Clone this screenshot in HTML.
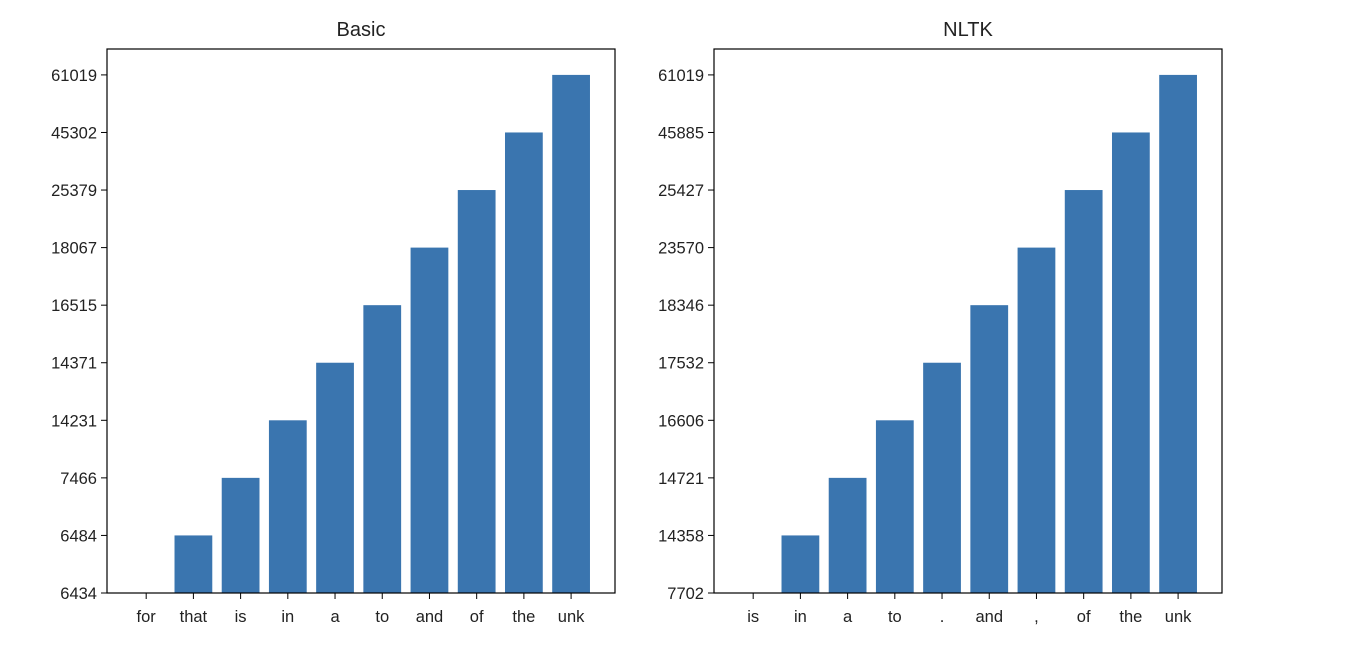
<!DOCTYPE html>
<html><head><meta charset="utf-8"><style>
body{margin:0;background:#fff;}
svg{display:block;font-family:"Liberation Sans","DejaVu Sans",sans-serif;}
</style></head><body>
<svg id="c" width="1360" height="660"></svg>
<script>
const basicWords=["for","that","is","in","a","to","and","of","the","unk"];
const basicCounts=["6434","6484","7466","14231","14371","16515","18067","25379","45302","61019"];
const nltkWords=["is","in","a","to",".","and",",","of","the","unk"];
const nltkCounts=["7702","14358","14721","16606","17532","18346","23570","25427","45885","61019"];
const titles=["Basic","NLTK"];
const NS="http://www.w3.org/2000/svg";
const svg=document.getElementById('c');
function mk(t,a,p){const e=document.createElementNS(NS,t);for(const k in a)e.setAttribute(k,a[k]);(p||svg).appendChild(e);return e;}
function panel(x0,words,counts,title,name){
  const g=mk('g',{});
  
  
  const W=508,top=49,bot=593;
  const cats=[];counts.forEach(c=>{if(!cats.includes(c))cats.push(c);});
  const n=words.length;
  const xmin=-0.83, xmax=n-1+0.93;
  const xs=v=>x0+(v-xmin)/(xmax-xmin)*W;
  const ymax=(cats.length-1)*1.05;
  const ys=v=>bot-v/ymax*(bot-top);
  words.forEach((w,i)=>{
    const v=cats.indexOf(counts[i]);
    const r=mk('rect',{x:xs(i-0.4),y:ys(v),width:xs(i+0.4)-xs(i-0.4),height:bot-ys(v),fill:'#3a75af'},g);
    
    
    mk('line',{x1:xs(i),x2:xs(i),y1:bot,y2:bot+6,stroke:'#000'},g);
    const t=mk('text',{x:xs(i),y:bot+29,'text-anchor':'middle','font-size':16.5,fill:'#222'},g);
    t.textContent=w;
    
    
  });
  cats.forEach((c,j)=>{
    mk('line',{x1:x0-6,x2:x0,y1:ys(j),y2:ys(j),stroke:'#000'},g);
    const t=mk('text',{x:x0-10,y:ys(j)+6,'text-anchor':'end','font-size':16.5,fill:'#222'},g);
    t.textContent=c;
    
    
  });
  const f=mk('rect',{x:x0,y:top,width:W,height:bot-top,fill:'none',stroke:'#000','stroke-width':1.2},g);
  
  
  const tt=mk('text',{x:x0+W/2,y:36,'text-anchor':'middle','font-size':20,fill:'#222'},g);
  tt.textContent=title;
  
  
}
panel(107,basicWords,basicCounts,titles[0],'basic');
panel(714,nltkWords,nltkCounts,titles[1],'nltk');
</script>
</body></html>
